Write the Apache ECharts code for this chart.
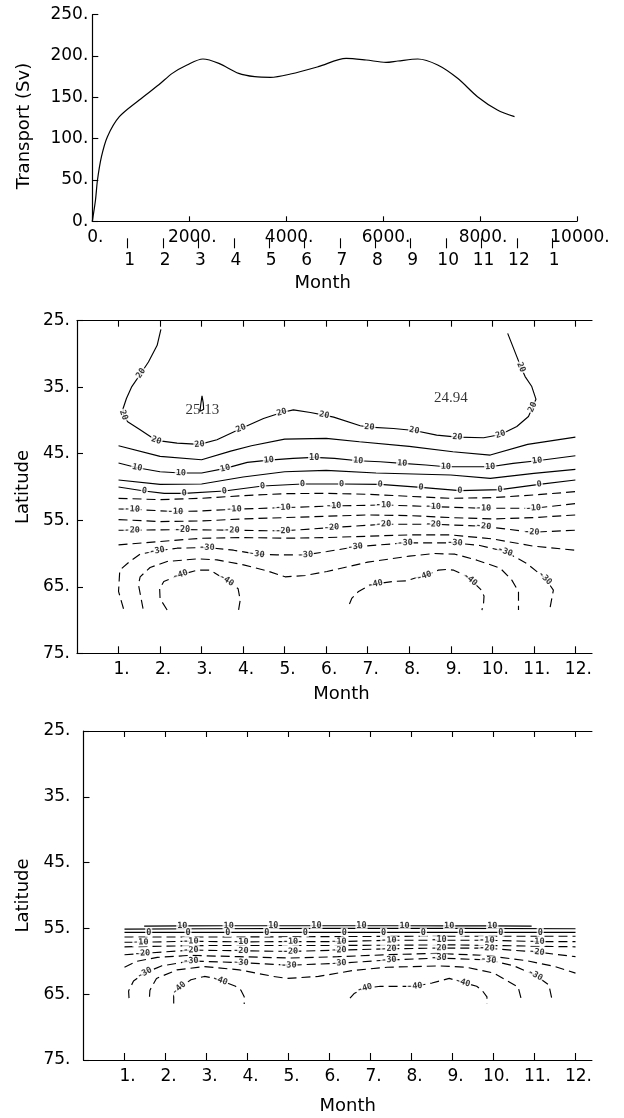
<!DOCTYPE html>
<html>
<head>
<meta charset="utf-8">
<script src="https://cdn.jsdelivr.net/npm/echarts@6/dist/echarts.min.js"></script>
<style>
  html, body { margin: 0; padding: 0; background: #fff; }
  #c { width: 624px; height: 1118px; }
</style>
</head>
<body>
<div id="c"></div>
<script>
// ---- Transport time series (model time step, Sv) ----
const steps = [0, 66, 107, 189, 312, 558, 969, 1379, 1650, 1954, 2282, 2611, 3021, 3350, 3678,
  4089, 4663, 5238, 5649, 6059, 6305, 6716, 7126, 7537, 7947, 8358, 8711];
const transport = [0, 25.8, 50, 78.2, 102.4, 126.6, 146.8, 165.5, 179, 189.1, 196.4, 191.1, 179, 175, 174.2,
  178.2, 187.1, 197.2, 195.2, 192.3, 194, 196.4, 189.1, 173, 150.8, 134.7, 126.6];
const stepsPerMonth = 730;
const monthLabels = ['1', '2', '3', '4', '5', '6', '7', '8', '9', '10', '11', '12', '1'];
const monthTicks = [1, 2, 3, 4, 5, 6, 7, 8, 9, 10, 11, 12];

// ---- Upper contour panel: isolines as [month, latitude] ----
const mid25 = [[2.96, 38.6], [2.98, 37.6], [3.01, 36.3], [3.04, 37.4], [3.05, 38.3], [3.0, 38.5], [2.96, 38.6]];
const mid20 = [[2.02, 26.3], [1.93, 28.7], [1.72, 31.2], [1.54, 32.9], [1.32, 34.9], [1.19, 36.7], [1.11, 38.2],
  [1.12, 39.2], [1.22, 40.2], [1.52, 41.4], [1.91, 43.0], [2.41, 43.4], [2.95, 43.6], [3.37, 42.9], [3.95, 41.2],
  [4.49, 39.7], [4.93, 38.8], [5.21, 38.4], [5.62, 38.8], [5.95, 39.2], [6.18, 39.5], [6.82, 40.8], [7.04, 41.0],
  [7.62, 41.2], [8.12, 41.5], [8.66, 42.2], [9.16, 42.5], [9.79, 42.6], [10.2, 42.1], [10.59, 40.9], [10.87, 39.4],
  [10.97, 38.0], [11.05, 36.8], [10.95, 34.9], [10.79, 33.4], [10.69, 32.0], [10.59, 30.4], [10.37, 26.9]];
const mid15 = [[1.0, 43.8], [2.0, 45.4], [3.0, 45.9], [3.7, 44.6], [4.2, 43.8], [5.0, 42.8], [6.0, 42.7], [6.8, 43.2],
  [8.0, 43.9], [9.05, 44.7], [9.95, 45.2], [10.85, 43.6], [12.0, 42.5]];
const mid10 = [[1.0, 46.4], [1.45, 47.1], [2.0, 47.7], [2.5, 47.9], [3.0, 47.9], [3.57, 47.2], [4.1, 46.3], [4.62, 45.95],
  [5.2, 45.7], [5.71, 45.55], [6.2, 45.7], [6.77, 46.05], [7.3, 46.2], [7.83, 46.45], [8.4, 46.7], [8.88, 46.95],
  [9.95, 46.95], [10.5, 46.45], [11.08, 46.05], [12.0, 45.3]];
const mid5 = [[1.0, 48.95], [2.0, 49.6], [3.0, 49.55], [4.0, 48.5], [5.0, 47.7], [6.0, 47.5], [7.2, 47.9], [9.0, 48.2],
  [9.95, 48.7], [11.0, 47.95], [12.0, 47.35]];
const mid0 = [[1.0, 50.0], [1.62, 50.6], [2.1, 50.95], [2.58, 50.95], [3.55, 50.6], [4.47, 49.85], [5.43, 49.55],
  [6.37, 49.55], [7.3, 49.6], [8.28, 50.05], [9.22, 50.55], [10.19, 50.4], [11.13, 49.6], [12.0, 48.95]];
const midM5 = [[1.0, 51.7], [2.0, 51.9], [3.0, 51.7], [4.0, 51.3], [5.0, 51.0], [6.0, 50.95], [7.0, 51.1], [8.0, 51.4],
  [9.0, 51.7], [10.0, 51.6], [11.0, 51.2], [12.0, 50.7]];
const midM10 = [[1.0, 53.3], [1.33, 53.35], [2.37, 53.7], [3.0, 53.6], [3.78, 53.35], [4.96, 53.1], [6.18, 52.85],
  [7.38, 52.7], [8.58, 52.95], [9.79, 53.2], [10.99, 53.2], [12.0, 52.5]];
const midM15 = [[1.0, 54.9], [2.0, 55.2], [3.0, 55.1], [4.0, 54.8], [5.0, 54.6], [6.0, 54.4], [7.0, 54.2], [8.0, 54.3],
  [9.0, 54.6], [10.0, 54.8], [11.0, 54.6], [12.0, 54.2]];
const midM20 = [[1.0, 56.5], [1.33, 56.5], [2.54, 56.4], [3.73, 56.5], [4.96, 56.6], [6.13, 56.1], [7.38, 55.6],
  [8.58, 55.6], [9.79, 55.9], [10.95, 56.8], [12.0, 56.5]];
const midM25 = [[1.0, 58.7], [2.0, 58.2], [3.0, 57.7], [4.0, 57.6], [5.0, 57.7], [6.0, 57.6], [7.0, 57.4], [8.0, 57.2],
  [9.0, 57.2], [10.0, 57.8], [11.0, 58.9], [12.0, 59.5]];
const midM30 = [[1.12, 68.3], [1.0, 65.7], [1.03, 62.5], [1.25, 61.3], [1.52, 60.1], [1.93, 59.6], [2.41, 59.2],
  [3.13, 59.1], [3.77, 59.5], [4.33, 60.1], [4.81, 60.2], [5.5, 60.2], [6.02, 59.7], [6.7, 59.0], [7.9, 58.4],
  [9.1, 58.4], [9.7, 58.8], [10.31, 59.7], [10.83, 61.5], [11.27, 63.7], [11.47, 65.5], [11.38, 68.5]];
const midM35 = [[1.59, 68.3], [1.48, 64.7], [1.52, 63.5], [1.76, 62.1], [2.17, 61.2], [2.9, 60.8], [3.37, 60.95],
  [4.01, 61.7], [4.57, 62.6], [5.01, 63.5], [5.5, 63.3], [6.02, 62.7], [7.0, 61.3], [8.0, 60.4], [8.6, 60.0],
  [9.1, 60.1], [9.63, 61.0], [10.19, 62.2], [10.47, 64.0], [10.63, 65.7], [10.63, 68.5]];
const midM40a = [[2.17, 68.5], [2.0, 66.8], [1.99, 65.3], [2.09, 64.2], [2.49, 63.2], [2.9, 62.5], [3.2, 62.5],
  [3.6, 64.0], [3.88, 65.3], [3.93, 67.0], [3.89, 68.5]];
const midM40b = [[6.56, 67.6], [6.62, 66.7], [6.78, 65.7], [6.98, 65.0], [7.18, 64.6], [7.6, 64.2], [7.94, 64.1],
  [8.18, 63.6], [8.36, 63.4], [8.7, 62.5], [8.9, 62.4], [9.07, 62.5], [9.31, 63.2], [9.47, 63.9], [9.72, 65.4],
  [9.8, 66.4], [9.79, 67.4], [9.75, 68.5]];

const midLab20 = [[1.54, 32.9], [1.12, 39.2], [1.91, 43.0], [2.95, 43.6], [3.95, 41.2], [4.93, 38.8], [5.95, 39.2],
  [7.04, 41.0], [8.12, 41.5], [9.16, 42.5], [10.2, 42.1], [10.97, 38.0], [10.69, 32.0]];
const midLab10 = [[1.45, 47.1], [2.5, 47.9], [3.57, 47.2], [4.62, 45.95], [5.71, 45.55], [6.77, 46.05], [7.83, 46.45],
  [8.88, 46.95], [9.95, 46.95], [11.08, 46.05]];
const midLab0 = [[1.62, 50.6], [2.58, 50.95], [3.55, 50.6], [4.47, 49.85], [5.43, 49.55], [6.37, 49.55], [7.3, 49.6],
  [8.28, 50.05], [9.22, 50.55], [10.19, 50.4], [11.13, 49.6]];
const midLabM10 = [[1.33, 53.35], [2.37, 53.7], [3.78, 53.35], [4.96, 53.1], [6.18, 52.85], [7.38, 52.7], [8.58, 52.95],
  [9.79, 53.2], [10.99, 53.2]];
const midLabM20 = [[1.33, 56.5], [2.54, 56.4], [3.73, 56.5], [4.96, 56.6], [6.13, 56.1], [7.38, 55.6], [8.58, 55.6],
  [9.79, 55.9], [10.95, 56.8]];
const midLabM30 = [[1.93, 59.6], [3.13, 59.1], [4.33, 60.1], [5.5, 60.2], [6.7, 59.0], [7.9, 58.4], [9.1, 58.4],
  [10.31, 59.7], [11.27, 63.7]];
const midLabM40 = [[2.49, 63.2], [3.6, 64.0], [7.18, 64.6], [8.36, 63.4], [9.47, 63.9]];
const midMaxima = [[3.02, 38.4, '25.13'], [9.0, 36.7, '24.94']];

// ---- Lower contour panel ----
const low10 = [[1.48, 54.65], [2.41, 54.62], [3.54, 54.6], [4.63, 54.6], [5.68, 54.6], [6.78, 54.6], [7.83, 54.6],
  [8.92, 54.62], [9.97, 54.62], [10.93, 54.65]];
const low5 = [[1.0, 55.1], [3.0, 55.05], [6.0, 55.0], [9.0, 55.0], [12.0, 55.05]];
const low0 = [[1.0, 55.6], [1.59, 55.6], [2.55, 55.6], [3.52, 55.6], [4.47, 55.6], [5.41, 55.6], [6.36, 55.6],
  [7.32, 55.6], [8.29, 55.6], [9.21, 55.6], [10.18, 55.6], [11.14, 55.6], [12.0, 55.6]];
const lowM5 = [[1.0, 56.3], [4.0, 56.3], [8.0, 56.2], [12.0, 56.2]];
const lowM10 = [[1.0, 57.1], [1.4, 57.1], [2.62, 56.95], [3.84, 57.05], [5.05, 57.0], [6.23, 57.0], [7.45, 56.8],
  [8.67, 56.8], [9.84, 56.8], [11.06, 57.0], [12.0, 57.0]];
const lowM15 = [[1.0, 57.8], [3.0, 57.6], [6.0, 57.6], [9.0, 57.5], [12.0, 57.8]];
const lowM20 = [[1.0, 59.0], [1.44, 58.8], [2.62, 58.3], [3.84, 58.4], [5.05, 58.5], [6.23, 58.3], [7.45, 58.1],
  [8.67, 58.0], [9.84, 58.0], [11.06, 58.6], [12.0, 59.3]];
const lowM25 = [[1.0, 60.9], [1.3, 60.0], [1.8, 59.4], [2.6, 59.1], [3.8, 59.3], [5.0, 59.5], [6.2, 59.3], [7.4, 59.0],
  [8.6, 58.8], [9.8, 59.1], [10.8, 59.9], [11.5, 60.8], [12.0, 61.8]];
const lowM30 = [[1.11, 65.6], [1.1, 64.5], [1.22, 63.0], [1.49, 61.8], [1.9, 60.7], [2.62, 59.95], [3.84, 60.2],
  [5.01, 60.6], [6.23, 60.3], [7.45, 59.8], [8.67, 59.5], [9.88, 59.8], [10.5, 60.7], [11.02, 62.1], [11.35, 63.6],
  [11.42, 65.6]];
const lowM35 = [[1.61, 65.4], [1.62, 64.4], [1.78, 62.6], [2.28, 61.3], [2.95, 60.8], [3.8, 61.3], [4.63, 62.3],
  [4.97, 62.6], [5.73, 62.3], [6.57, 61.4], [7.41, 60.9], [8.67, 60.7], [9.34, 60.9], [10.01, 61.8], [10.6, 63.9],
  [10.67, 65.6]];
const lowM40a = [[2.2, 66.4], [2.2, 65.1], [2.33, 64.1], [2.62, 62.8], [2.95, 62.3], [3.12, 62.5], [3.33, 62.9],
  [3.71, 63.8], [3.84, 64.4], [3.92, 65.4], [3.92, 66.5]];
const lowM40b = [[6.5, 65.6], [6.6, 64.9], [6.86, 64.1], [7.24, 63.8], [7.49, 63.8], [8.08, 63.8], [8.5, 63.3],
  [8.92, 62.6], [9.25, 63.2], [9.59, 63.8], [9.72, 64.4], [9.84, 65.4], [9.84, 66.5]];

const lowLab10 = [[2.41, 54.62], [3.54, 54.6], [4.63, 54.6], [5.68, 54.6], [6.78, 54.6], [7.83, 54.6], [8.92, 54.62], [9.97, 54.62]];
const lowLab0 = [[1.59, 55.6], [2.55, 55.6], [3.52, 55.6], [4.47, 55.6], [5.41, 55.6], [6.36, 55.6], [7.32, 55.6],
  [8.29, 55.6], [9.21, 55.6], [10.18, 55.6], [11.14, 55.6]];
const lowLabM10 = [[1.4, 57.1], [2.62, 56.95], [3.84, 57.05], [5.05, 57.0], [6.23, 57.0], [7.45, 56.8], [8.67, 56.8],
  [9.84, 56.8], [11.06, 57.0]];
const lowLabM20 = [[1.44, 58.8], [2.62, 58.3], [3.84, 58.4], [5.05, 58.5], [6.23, 58.3], [7.45, 58.1], [8.67, 58.0],
  [9.84, 58.0], [11.06, 58.6]];
const lowLabM30 = [[1.49, 61.8], [2.62, 59.95], [3.84, 60.2], [5.01, 60.6], [6.23, 60.3], [7.45, 59.8], [8.67, 59.5],
  [9.88, 59.8], [11.02, 62.1]];
const lowLabM40 = [[2.33, 64.1], [3.33, 62.9], [6.86, 64.1], [8.08, 63.8], [9.25, 63.2]];

// isoline level -> polylines, and label positions per level
const midContours = [[25, mid25], [20, mid20], [15, mid15], [10, mid10], [5, mid5], [0, mid0], [-5, midM5],
  [-10, midM10], [-15, midM15], [-20, midM20], [-25, midM25], [-30, midM30], [-35, midM35], [-40, midM40a], [-40, midM40b]];
const midLabels = [[20, midLab20], [10, midLab10], [0, midLab0], [-10, midLabM10], [-20, midLabM20], [-30, midLabM30], [-40, midLabM40]];
const lowContours = [[10, low10], [5, low5], [0, low0], [-5, lowM5], [-10, lowM10], [-15, lowM15], [-20, lowM20],
  [-25, lowM25], [-30, lowM30], [-35, lowM35], [-40, lowM40a], [-40, lowM40b]];
const lowLabels = [[10, lowLab10], [0, lowLab0], [-10, lowLabM10], [-20, lowLabM20], [-30, lowLabM30], [-40, lowLabM40]];

// ---- styling ----
const ink = '#000';
const sans = 'DejaVu Sans';
const tickText = { fontFamily: sans, fontSize: 17, color: ink };
const nameText = { fontFamily: sans, fontSize: 18, color: ink };
const solidAxis = { show: true, lineStyle: { color: ink, width: 1.2 } };

const chart = echarts.init(document.getElementById('c'), null, { renderer: 'canvas', width: 624, height: 1118 });

function monthAxes(gridIndex, labelPad, namePad, nameGap) {
  return [
    {
      gridIndex, type: 'value', min: 0, max: 12.4, position: 'bottom',
      axisLine: solidAxis,
      axisTick: { show: true, inside: true, length: 7, customValues: monthTicks, lineStyle: { color: ink, width: 1.1 } },
      axisLabel: Object.assign({ show: true, customValues: monthTicks, margin: 8, padding: labelPad,
        formatter: v => v + '.' }, tickText),
      splitLine: { show: false },
      name: 'Month', nameLocation: 'middle', nameGap, nameTextStyle: Object.assign({ padding: namePad }, nameText)
    },
    {
      gridIndex, type: 'value', min: 0, max: 12.4, position: 'top',
      axisLine: solidAxis,
      axisTick: { show: true, inside: true, length: 6, customValues: monthTicks, lineStyle: { color: ink, width: 1.1 } },
      axisLabel: { show: false },
      splitLine: { show: false }
    }
  ];
}

function latAxis(gridIndex, margin, nameGap) {
  return {
    gridIndex, type: 'value', inverse: true, min: 25, max: 75, interval: 10,
    axisLine: solidAxis,
    axisTick: { show: true, inside: true, length: 6, lineStyle: { color: ink, width: 1.1 } },
    axisLabel: Object.assign({ margin, formatter: v => v + '.' }, tickText),
    splitLine: { show: false },
    name: 'Latitude', nameLocation: 'middle', nameGap, nameTextStyle: nameText
  };
}

function contourSeries(xi, yi, contours) {
  return contours.map(([level, pts]) => ({
    type: 'line', xAxisIndex: xi, yAxisIndex: yi, data: pts,
    symbol: 'none', silent: true, z: 2,
    lineStyle: { color: ink, width: 1.15, type: level < 0 ? [9, 5] : 'solid' }
  }));
}

function labelSeries(xi, yi, data) {
  return {
    type: 'scatter', xAxisIndex: xi, yAxisIndex: yi, data,
    symbolSize: 1, itemStyle: { color: 'rgba(0,0,0,0)' }, silent: true, z: 5,
    label: {
      show: true, position: 'inside', formatter: p => p.value[2],
      fontFamily: 'DejaVu Sans Mono', fontWeight: 'bold', fontSize: 8.5, color: ink,
      backgroundColor: '#fff', padding: [0, 1]
    }
  };
}

// Orient each isoline label along the local direction of its line (in pixels).
function orientedLabels(xi, yi, contours, labelSets) {
  const finder = { xAxisIndex: xi, yAxisIndex: yi };
  const paths = contours.map(([lv, pts]) => [lv, pts.map(p => chart.convertToPixel(finder, p))]);
  const out = [];
  labelSets.forEach(([lv, pts]) => {
    pts.forEach(p => {
      const q = chart.convertToPixel(finder, p);
      let best = Infinity, ang = 0;
      paths.forEach(([l2, path]) => {
        if (l2 !== lv) return;
        path.forEach((v, k) => {
          const d = Math.hypot(v[0] - q[0], v[1] - q[1]);
          if (d < best) {
            best = d;
            const a = path[Math.max(0, k - 1)], b = path[Math.min(path.length - 1, k + 1)];
            ang = Math.atan2(-(b[1] - a[1]), b[0] - a[0]) * 180 / Math.PI;
          }
        });
      });
      if (ang > 90) ang -= 180;
      if (ang < -90) ang += 180;
      out.push({ value: [p[0], p[1], String(lv)], label: { rotate: ang } });
    });
  });
  return out;
}

const monthStepTicks = monthLabels.map((_, i) => (i + 1) * stepsPerMonth);

const option = {
  animation: false,
  backgroundColor: '#fff',
  grid: [
    { left: 92.3, top: 14.7, width: 484.7, height: 206.6 },
    { left: 77, top: 320.7, width: 515, height: 332.6 },
    { left: 83.5, top: 731, width: 508.4, height: 329 }
  ],
  xAxis: [
    {
      gridIndex: 0, type: 'value', min: 0, max: 10000, interval: 2000,
      axisLine: solidAxis,
      axisTick: { show: true, inside: true, length: 5, lineStyle: { color: ink, width: 1.1 } },
      axisLabel: Object.assign({ margin: 8, padding: [0, 0, 0, 6], formatter: v => v + '.' }, tickText),
      splitLine: { show: false }
    },
    {
      gridIndex: 0, type: 'value', min: 0, max: 10000, position: 'bottom', offset: 17,
      axisLine: { show: false },
      axisTick: { show: true, length: 10, customValues: monthStepTicks, lineStyle: { color: ink, width: 1.1 } },
      axisLabel: Object.assign({ show: true, margin: 14, customValues: monthStepTicks, padding: [0, 0, 0, 4],
        formatter: v => monthLabels[Math.round(v / stepsPerMonth) - 1] }, tickText),
      splitLine: { show: false },
      name: 'Month', nameLocation: 'middle', nameGap: 36,
      nameTextStyle: Object.assign({ padding: [0, 24, 0, 0] }, nameText)
    },
    ...monthAxes(1, [0, 0, 0, 6], [0, 0, 0, 14], 32),
    ...monthAxes(2, [0, 0, 0, 6], [0, 0, 0, 20], 37)
  ],
  yAxis: [
    {
      gridIndex: 0, type: 'value', min: 0, max: 250, interval: 50,
      axisLine: solidAxis,
      axisTick: { show: true, inside: true, length: 6, lineStyle: { color: ink, width: 1.1 } },
      axisLabel: Object.assign({ margin: 4, formatter: v => v + '.' }, tickText),
      splitLine: { show: false },
      name: 'Transport (Sv)', nameLocation: 'middle', nameGap: 59,
      nameTextStyle: Object.assign({ padding: [0, 16, 0, 0] }, nameText)
    },
    latAxis(1, 7, 38),
    latAxis(2, 13, 44)
  ],
  series: [
    {
      type: 'line', xAxisIndex: 0, yAxisIndex: 0,
      data: steps.map((s, i) => [s, transport[i]]),
      symbol: 'none', smooth: 0.3, silent: true,
      lineStyle: { color: ink, width: 1.2 }
    },
    ...contourSeries(2, 1, midContours),
    ...contourSeries(4, 2, lowContours),
    labelSeries(2, 1, []),
    labelSeries(4, 2, []),
    {
      type: 'scatter', xAxisIndex: 2, yAxisIndex: 1, data: midMaxima,
      symbolSize: 1, itemStyle: { color: 'rgba(0,0,0,0)' }, silent: true, z: 4,
      label: { show: true, position: 'inside', formatter: p => p.value[2],
        fontFamily: 'Liberation Serif', fontSize: 15, color: ink }
    }
  ]
};

chart.setOption(option);

// second pass: labels rotated along their isolines
const nLines = 1 + midContours.length + lowContours.length;
const series = option.series.slice();
series[nLines] = labelSeries(2, 1, orientedLabels(2, 1, midContours, midLabels));
series[nLines + 1] = labelSeries(4, 2, orientedLabels(4, 2, lowContours, lowLabels));
chart.setOption({ series });
</script>
</body>
</html>
